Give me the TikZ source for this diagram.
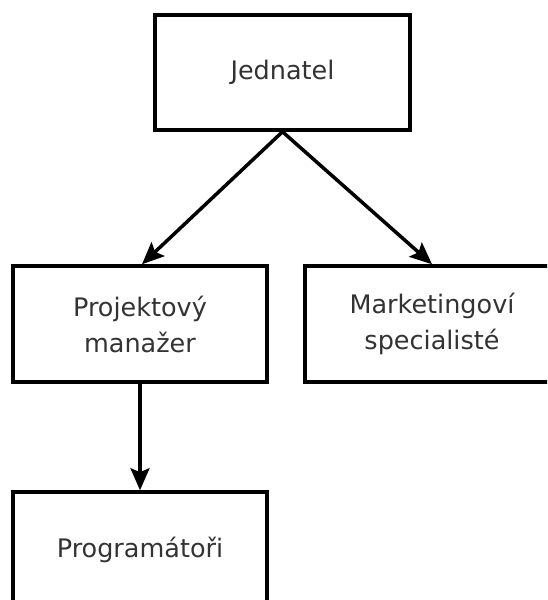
\documentclass[tikz,border=0pt]{standalone}
\usepackage{fontspec}
\setmainfont{DejaVu Sans}
\usetikzlibrary{arrows.meta}
\definecolor{labelgray}{HTML}{333333}

\begin{document}
\begin{tikzpicture}[x=1pt, y=-1pt, >={Stealth[length=22pt, width=19pt, inset=4pt]},
  every node/.style={font=\fontsize{25.5}{36}\selectfont, text=labelgray},
  orgbox/.style={draw, line width=3.5pt, align=center, minimum width=#1, minimum height=116pt, inner sep=0pt},
  link/.style={->, line width=3.5pt}]
\useasboundingbox (0,0) rectangle (547,600);
\clip (0,0) rectangle (547,600);

\node[orgbox=255pt, minimum height=115pt] (jed) at (282.5,72.5) {Jednatel};
\node[orgbox=254pt] (pm) at (140,324) {Projektový\\manažer};
\node[orgbox=254pt] (mkt) at (432,324) {Marketingoví\\specialisté};
\node[orgbox=254pt] (prog) at (140,550) {Programátoři};

\draw[link] (jed.south) -- ([xshift=2pt]pm.north);
\draw[link] (jed.south) -- (mkt.north);
\draw[link] (pm.south) -- (prog.north);
\end{tikzpicture}
\end{document}
